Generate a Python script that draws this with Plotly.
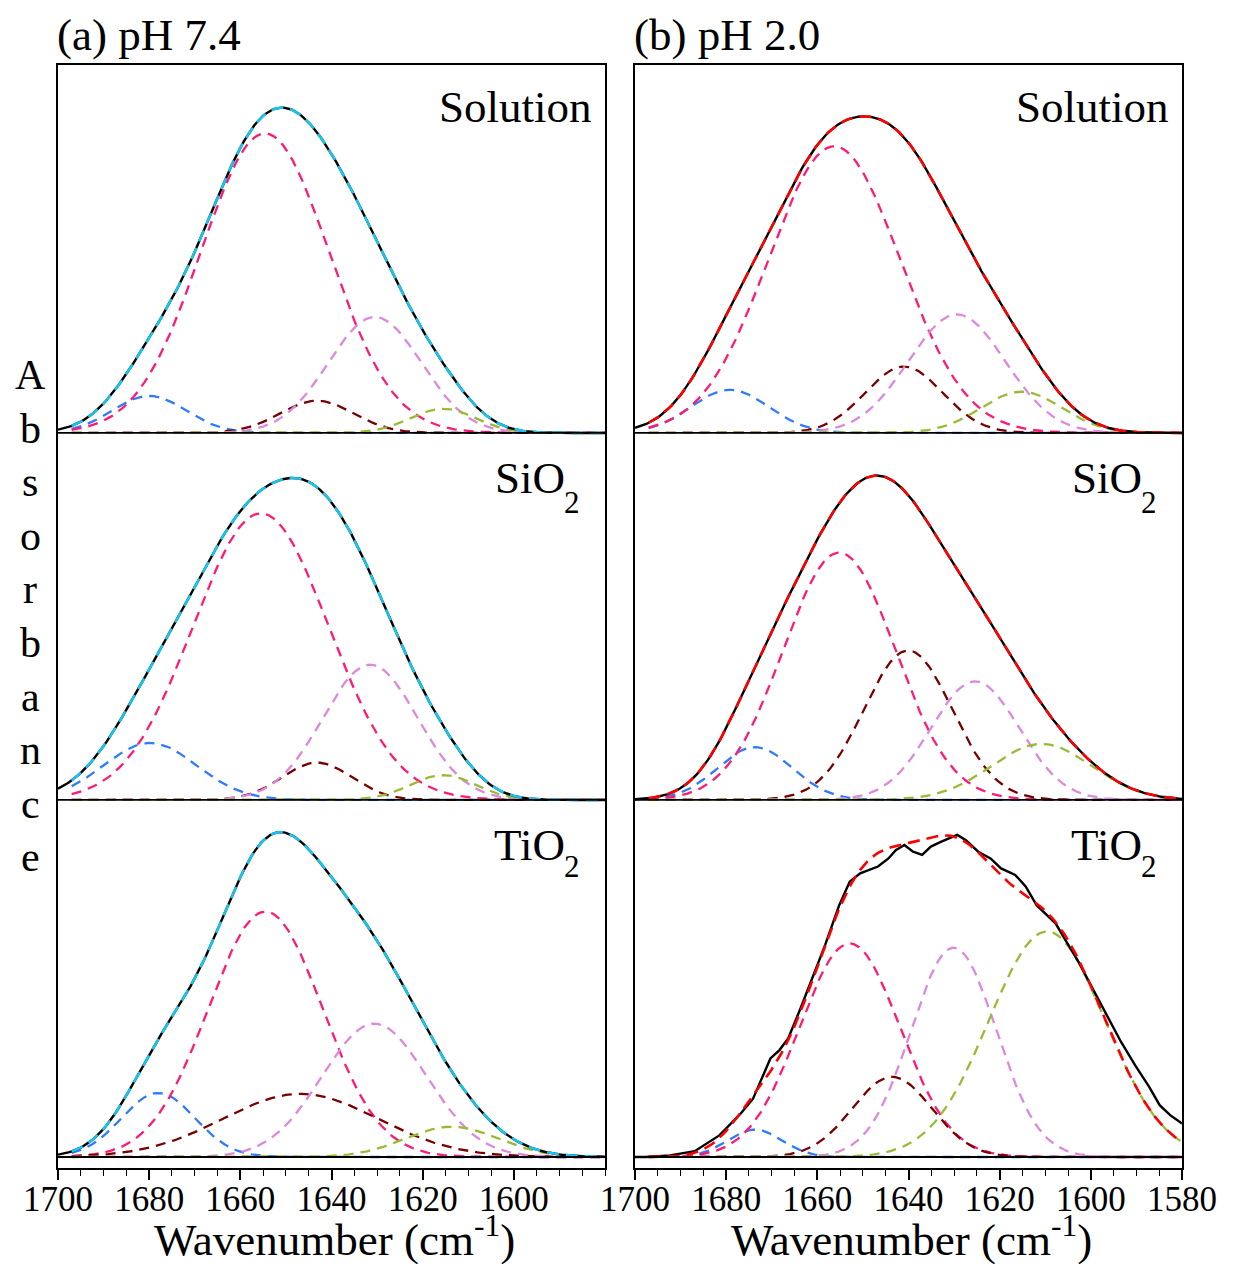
import numpy as np
import plotly.graph_objects as go

# ---------------- data ----------------
panel_names = ["Solution", "SiO", "TiO"]
panel_subs = ["", "2", "2"]
column_titles = ["(a) pH 7.4", "(b) pH 2.0"]
left_ticks = [1700, 1680, 1660, 1640, 1620, 1600]
right_ticks = [1700, 1680, 1660, 1640, 1620, 1600, 1580]
ylabel_letters = ["A", "b", "s", "o", "r", "b", "a", "n", "c", "e"]

# component order: blue, pink, dark red, violet, green
comp_colors = ["#2f7bff", "#ff1a75", "#7a0000", "#dd88dd", "#99bb33"]

# pH 7.4 -- Gaussian components: centre (cm-1), height (normalised), FWHM (cm-1)
a_sol_center = [1680.0, 1654.6, 1643.2, 1630.5, 1615.5]
a_sol_height = [0.115, 0.93, 0.100, 0.360, 0.075]
a_sol_fwhm = [19, 33, 19, 24, 17]

a_sio_center = [1679.8, 1655.5, 1643.2, 1631.5, 1615.5]
a_sio_height = [0.177, 0.890, 0.116, 0.420, 0.077]
a_sio_fwhm = [24, 35, 18, 24.5, 17]

a_tio_center = [1678.0, 1654.5, 1646.8, 1630.6, 1613.6]
a_tio_height = [0.199, 0.762, 0.196, 0.414, 0.094]
a_tio_fwhm = [19, 29.5, 40, 27, 24]

# pH 2.0
b_sol_center = [1679.2, 1656.3, 1641.0, 1629.4, 1615.2]
b_sol_height = [0.134, 0.890, 0.206, 0.368, 0.128]
b_sol_fwhm = [20, 34, 20, 25, 21]

b_sio_center = [1673.7, 1655.2, 1640.1, 1625.4, 1610.8]
b_sio_height = [0.164, 0.768, 0.464, 0.368, 0.174]
b_sio_fwhm = [19.3, 29, 22.8, 22.8, 25.9]

b_tio_center = [1673.7, 1652.9, 1643.6, 1630.1, 1609.6]
b_tio_height = [0.085, 0.663, 0.249, 0.650, 0.700]
b_tio_fwhm = [14, 26, 20.5, 22, 30]

# measured spectrum, TiO2 at pH 2.0 (noisy)
b_tio_meas_x = [1700.0, 1697.7, 1692.3, 1686.9, 1681.5, 1676.8, 1674.1, 1670.3, 1668.3, 1666.4,
                1663.7, 1661.4, 1658.3, 1655.2, 1652.9, 1650.6, 1646.7, 1644.4, 1642.8, 1640.9,
                1639.0, 1637.0, 1635.1, 1632.8, 1629.3, 1627.4, 1624.7, 1622.0, 1619.7, 1616.6,
                1614.3, 1611.9, 1609.6, 1607.7, 1605.8, 1602.7, 1599.6, 1596.5, 1593.4, 1590.3,
                1587.2, 1584.9, 1582.6, 1580.0]
b_tio_meas_y = [0.0, 0.0, 0.005, 0.018, 0.067, 0.135, 0.181, 0.306, 0.332, 0.368,
                0.461, 0.544, 0.658, 0.782, 0.855, 0.881, 0.902, 0.927, 0.953, 0.969,
                0.948, 0.938, 0.964, 0.979, 1.0, 0.984, 0.948, 0.927, 0.896, 0.876,
                0.840, 0.782, 0.751, 0.725, 0.679, 0.606, 0.523, 0.440, 0.358, 0.285,
                0.218, 0.161, 0.130, 0.104]

# ---------------- figure ----------------
W, H = 1236, 1264
panel_offsets = [2.2484, 1.1087, 0.0]
y_range = [-0.0342, 3.391]
x_full = np.arange(1700.0, 1579.9, -0.5)
x_fit = np.arange(1697.0, 1579.9, -0.5)


def gauss(x, c, h, w):
    return h * np.exp(-4 * np.log(2) * (x - c) ** 2 / w ** 2)


columns = [
    dict(xa="x", ya="y", fit_color="#19c3f0",
         panels=[(a_sol_center, a_sol_height, a_sol_fwhm, None),
                 (a_sio_center, a_sio_height, a_sio_fwhm, None),
                 (a_tio_center, a_tio_height, a_tio_fwhm, None)]),
    dict(xa="x2", ya="y2", fit_color="#ff0000",
         panels=[(b_sol_center, b_sol_height, b_sol_fwhm, None),
                 (b_sio_center, b_sio_height, b_sio_fwhm, None),
                 (b_tio_center, b_tio_height, b_tio_fwhm, (b_tio_meas_x, b_tio_meas_y))]),
]

fig = go.Figure()
for col in columns:
    for (cen, hei, fw, meas), off in zip(col["panels"], panel_offsets):
        total_fit = np.zeros_like(x_fit)
        total_full = np.zeros_like(x_full)
        for c, h, w, colr in zip(cen, hei, fw, comp_colors):
            yc = gauss(x_fit, c, h, w)
            total_fit += yc
            total_full += gauss(x_full, c, h, w)
            fig.add_trace(go.Scatter(x=x_fit, y=yc + off, mode="lines", xaxis=col["xa"], yaxis=col["ya"],
                                     line=dict(color=colr, width=2.3, dash="10px,7px"), showlegend=False,
                                     hoverinfo="skip"))
        if meas is None:
            mx, my = x_full, total_full
        else:
            mx, my = np.array(meas[0]), np.array(meas[1])
        fig.add_trace(go.Scatter(x=mx, y=my + off, mode="lines", xaxis=col["xa"], yaxis=col["ya"],
                                 line=dict(color="black", width=2.4), showlegend=False, hoverinfo="skip"))
        fig.add_trace(go.Scatter(x=x_fit, y=total_fit + off, mode="lines", xaxis=col["xa"], yaxis=col["ya"],
                                 line=dict(color=col["fit_color"], width=2.6, dash="12px,7px"),
                                 showlegend=False, hoverinfo="skip"))
        fig.add_shape(type="line", xref=col["xa"], yref=col["ya"], x0=1700, x1=1580, y0=off, y1=off,
                      line=dict(color="black", width=1.8))

FONT = "Liberation Serif, Times New Roman, serif"
axis_common = dict(range=[1700, 1580], showline=True, mirror=True, linecolor="black", linewidth=1.8,
                   ticks="outside", ticklen=10, tickwidth=1.6, tickcolor="black", showgrid=False,
                   zeroline=False, tickmode="array", automargin=False, ticklabelstandoff=-11,
                   tickfont=dict(family=FONT, size=35, color="black"),
                   minor=dict(ticks="outside", ticklen=6, tickwidth=1.3, tickcolor="black",
                              tickmode="linear", tick0=1700, dtick=5))
yaxis_common = dict(range=y_range, showline=True, mirror=True, linecolor="black", linewidth=1.8,
                    showticklabels=False, ticks="", showgrid=False, zeroline=False, automargin=False)

y_dom = [(H - 1168) / H, (H - 65) / H]
fig.update_layout(
    width=W, height=H, autosize=False,
    margin=dict(l=0, r=0, t=0, b=0, pad=0, autoexpand=False),
    paper_bgcolor="white", plot_bgcolor="white",
    xaxis=dict(domain=[58 / W, 605 / W], anchor="y", tickvals=left_ticks, **axis_common),
    xaxis2=dict(domain=[635 / W, 1182 / W], anchor="y2", tickvals=right_ticks, **axis_common),
    yaxis=dict(domain=y_dom, anchor="x", **yaxis_common),
    yaxis2=dict(domain=y_dom, anchor="x2", **yaxis_common),
    font=dict(family=FONT, color="black"),
)

ann = []
# panel labels (main text + lowered subscript)
label_y = [3.261, 2.109, 0.969]
sub_y = [None, 2.031, 0.901]
for xa, ya in [("x", "y"), ("x2", "y2")]:
    for name, sub, ly, sy in zip(panel_names, panel_subs, label_y, sub_y):
        xr = 1582.5 if not sub else 1588.4
        ann.append(dict(x=xr, y=ly, xref=xa, yref=ya, text=name, showarrow=False,
                        xanchor="right", yanchor="middle", font=dict(family=FONT, size=45)))
        if sub:
            ann.append(dict(x=1589.4, y=sy, xref=xa, yref=ya, text=sub, showarrow=False,
                            xanchor="left", yanchor="middle", font=dict(family=FONT, size=31)))
# column titles
for t, px in zip(column_titles, [55, 632]):
    ann.append(dict(x=px / W, y=(H - 35) / H, xref="paper", yref="paper", text=t, showarrow=False,
                    xanchor="left", yanchor="middle", font=dict(family=FONT, size=45)))
# x axis titles
for cx in [334, 911]:
    ann.append(dict(x=cx / W, y=(H - 1236) / H, xref="paper", yref="paper",
                    text="Wavenumber (cm<sup>-1</sup>)", showarrow=False,
                    xanchor="center", yanchor="middle", font=dict(family=FONT, size=45)))
# vertical y label, one letter per line
for i, ch in enumerate(ylabel_letters):
    ypx = 375 + i * 53.6
    ann.append(dict(x=30 / W, y=(H - ypx) / H, xref="paper", yref="paper", text=ch, showarrow=False,
                    xanchor="center", yanchor="middle", font=dict(family=FONT, size=42)))
fig.update_layout(annotations=ann)

fig.write_html("out.html", config={"responsive": False, "displayModeBar": False},
               post_script="document.body.style.margin='0px';document.body.style.padding='0px';")
